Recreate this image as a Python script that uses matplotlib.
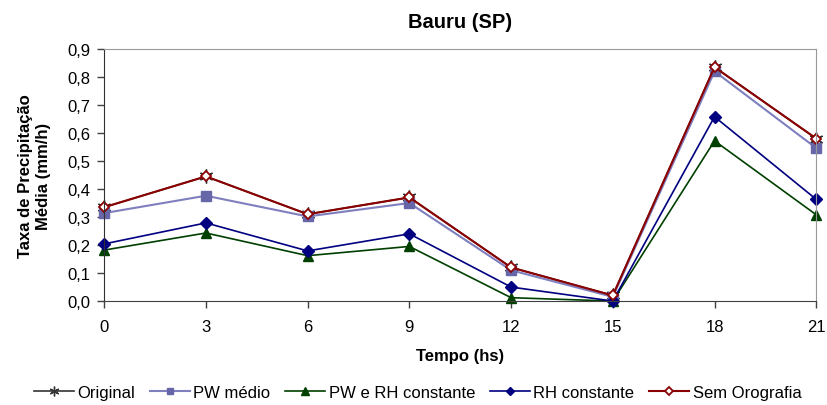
import numpy as np
import matplotlib
matplotlib.use("Agg")
import matplotlib.pyplot as plt

plt.rcParams['font.family'] = ['Liberation Sans', 'DejaVu Sans']

hours = [0, 3, 6, 9, 12, 15, 18, 21]
original = [0.335, 0.445, 0.310, 0.370, 0.120, 0.020, 0.835, 0.580]
pw_medio = [0.314, 0.376, 0.302, 0.350, 0.110, 0.015, 0.820, 0.546]
pw_rh_const = [0.182, 0.243, 0.162, 0.195, 0.012, 0.000, 0.572, 0.308]
rh_const = [0.204, 0.279, 0.179, 0.240, 0.050, 0.000, 0.658, 0.363]
sem_orografia = [0.335, 0.445, 0.310, 0.370, 0.120, 0.020, 0.835, 0.580]

yticks = [0.0, 0.1, 0.2, 0.3, 0.4, 0.5, 0.6, 0.7, 0.8, 0.9]

fig = plt.figure(figsize=(8.27, 4.06), dpi=100)
ax = fig.add_axes([0.126, 0.256, 0.861, 0.621])

ax.plot(hours, original, color='#333333', lw=1.2, marker=(6, 2, 0), ms=10, mew=1.0, label='Original')
ax.plot(hours, pw_medio, color='#7f7fbf', lw=1.5, marker='s', ms=6.5, mfc='#6666a8', mec='#6666a8', label='PW médio')
ax.plot(hours, pw_rh_const, color='#004000', lw=1.2, marker='^', ms=7.5, mfc='#004000', mec='#004000', label='PW e RH constante')
ax.plot(hours, rh_const, color='#000080', lw=1.2, marker='D', ms=6, mfc='#000080', mec='#000080', label='RH constante')
ax.plot(hours, sem_orografia, color='#8b0000', lw=1.5, marker='D', ms=5.5, mfc='white', mec='#8b0000', mew=1.3, label='Sem Orografia')

ax.set_xlim(0, 21)
ax.set_ylim(0, 0.9)
ax.set_xticks(hours)
ax.set_yticks(yticks)
ax.set_yticklabels([('%.1f' % v).replace('.', ',') for v in yticks])
ax.tick_params(labelsize=12, direction='out', length=5, width=1, color='#404040')
ax.tick_params(axis='x', pad=8)
ax.tick_params(axis='y', pad=5)
for ln in ax.get_lines():
    ln.set_clip_on(False)

ax.spines['left'].set_color('#303030')
ax.spines['bottom'].set_color('#404040')
ax.spines['top'].set_color('#999999')
ax.spines['right'].set_color('#999999')

ax.set_title('Bauru (SP)', fontsize=14.5, fontweight='bold', pad=16)
ax.set_xlabel('Tempo (hs)', fontsize=12, fontweight='bold', labelpad=10)
ax.set_ylabel('Taxa de Precipitação\nMédia (mm/h)', fontsize=12, fontweight='bold', labelpad=12)

handles, labels = ax.get_legend_handles_labels()
leg = fig.legend(handles, labels, loc='lower center', bbox_to_anchor=(0.505, -0.025), ncol=5, frameon=False,
                 fontsize=12, handlelength=2.4, handletextpad=0.2, columnspacing=0.9, markerscale=0.7)

fig.savefig('out.png', dpi=100)
